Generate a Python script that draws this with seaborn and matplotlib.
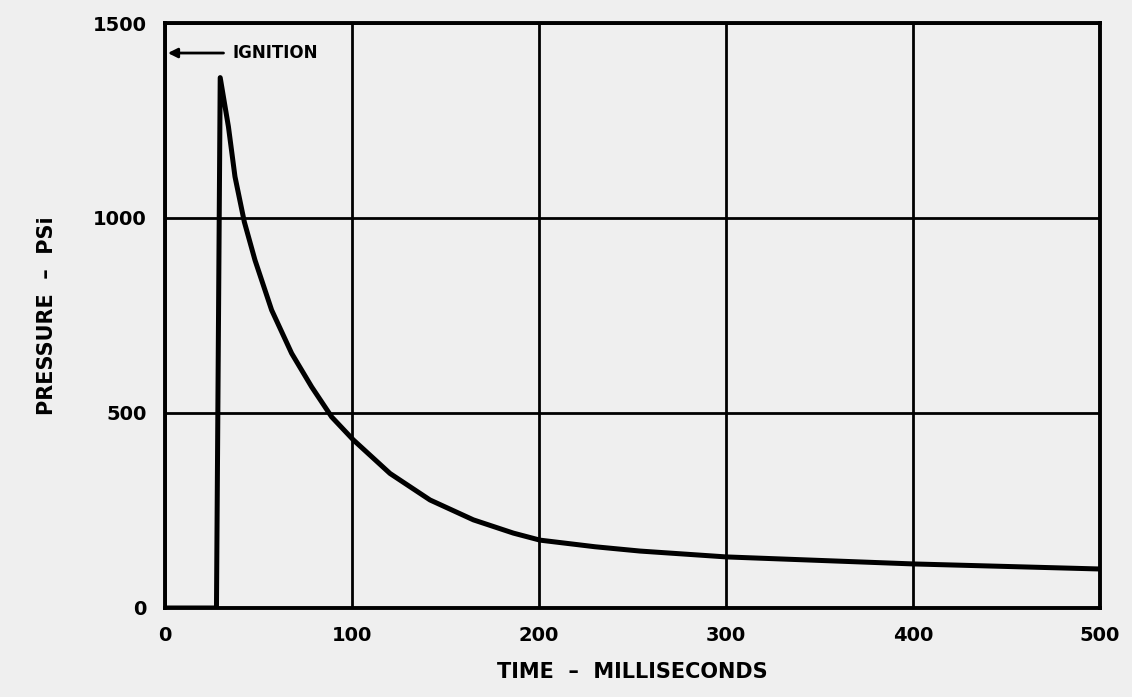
import numpy as np
import pandas as pd
import matplotlib
matplotlib.use("Agg")
import matplotlib.pyplot as plt
import seaborn as sns

# values
time_ms = [0, 27.5, 29.5, 33.9, 37.4, 42.4, 48.1, 57.0, 67.7, 78.4, 89.1, 100.7, 120.3, 141.7,
           164.9, 186.3, 200.5, 230, 254, 300, 400, 500]
pressure_psi = [0, 0, 1360, 1234, 1106, 990, 892, 764, 653, 567, 490, 431, 345, 277,
                226, 192, 174, 157, 146, 131, 113, 100]
x_ticks = [0, 100, 200, 300, 400, 500]
y_ticks = [0, 500, 1000, 1500]

bg = "#efefef"
sns.set_theme(style="white")
plt.rcParams["font.family"] = ["DejaVu Sans"]
plt.rcParams["font.weight"] = "bold"

df = pd.DataFrame({"time": time_ms, "pressure": pressure_psi})

fig = plt.figure(figsize=(11.32, 6.97), dpi=100, facecolor=bg)
ax = fig.add_axes([0.1458, 0.1277, 0.8259, 0.8393])
ax.set_facecolor(bg)

sns.lineplot(data=df, x="time", y="pressure", ax=ax, color="black", linewidth=3.6,
             sort=False, solid_joinstyle="round")

ax.set_xlim(0, 500)
ax.set_ylim(0, 1500)
ax.set_xticks(x_ticks)
ax.set_yticks(y_ticks)
ax.grid(True, color="black", linewidth=2.0)
ax.set_axisbelow(True)
for s in ax.spines.values():
    s.set_color("black")
    s.set_linewidth(2.8)
ax.tick_params(axis="both", colors="black", direction="out", length=7, width=2,
               labelsize=14, pad=6)
for lab in ax.get_xticklabels() + ax.get_yticklabels():
    lab.set_fontweight("bold")

ax.set_xlabel("TIME  –  MILLISECONDS", fontsize=15, fontweight="bold", color="black", labelpad=12)
ax.set_ylabel("PRESSURE  –  PSi", fontsize=15, fontweight="bold", color="black", labelpad=26)

ax.annotate("IGNITION", xy=(1.5, 1423), xytext=(36, 1423), textcoords="data",
            fontsize=12, fontweight="bold", color="black", va="center", ha="left",
            arrowprops=dict(arrowstyle="-|>", color="black", lw=2, shrinkA=4, shrinkB=0,
                            mutation_scale=14))

fig.savefig("out.png", dpi=100, facecolor=bg)
